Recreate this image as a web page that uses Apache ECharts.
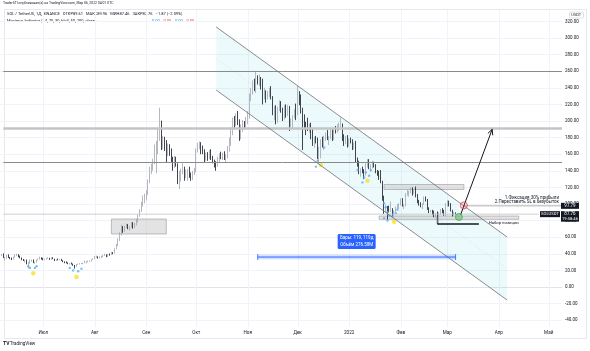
<!DOCTYPE html>
<html>
<head>
<meta charset="utf-8">
<script src="https://cdn.jsdelivr.net/npm/echarts@6/dist/echarts.min.js"></script>
<style>
html, body { margin: 0; padding: 0; background: #fff; }
#chart { width: 590px; height: 351px; }
</style>
</head>
<body>
<div id="chart"></div>
<script>
// daily candles, [open, close, low, high]
const jun21 = [
  [39.6,37.6,36.5,40.8],[37.6,38.7,37.2,39.8],[38.7,35.1,34.8,40.5],[35.1,35.6,31.8,36.2],[35.6,38.5,33.9,38.9],
  [38.5,35.5,35.0,39.4],[35.5,34.6,33.6,36.2],[34.6,34.2,32.4,35.4],[34.2,36.1,33.0,36.6],[36.1,38.3,35.6,39.3],
  [38.3,38.9,37.4,40.1],[38.9,36.3,35.8,39.6],[36.3,35.1,34.6,37.8],[35.1,32.9,32.3,35.6],[32.9,32.4,31.3,33.8],
  [32.4,32.8,29.6,33.2],[32.8,27.9,27.3,33.1],[27.9,28.6,22.6,30.4],[28.6,31.0,28.0,33.2],[31.0,32.3,30.2,33.0],
  [32.3,29.4,28.7,33.1],[29.4,29.5,28.1,30.3],[29.5,32.8,29.2,33.0],[32.8,33.2,32.0,34.2],[33.2,35.2,33.0,36.5],
  [35.2,34.9,33.0,35.8]
];
const jul21 = [
  [34.9,33.5,32.2,35.2],[33.5,33.6,32.1,34.0],[33.6,34.4,33.2,35.0],[34.4,35.0,33.9,35.9],[35.0,33.2,32.6,35.2],
  [33.2,34.4,33.0,35.6],[34.4,33.8,33.5,35.8],[33.8,31.9,31.2,34.0],[31.9,32.9,31.3,33.4],[32.9,32.7,32.1,34.2],
  [32.7,33.4,32.3,33.7],[33.4,31.9,31.4,33.9],[31.9,30.5,30.0,32.3],[30.5,30.3,28.6,30.9],[30.3,29.0,28.4,30.8],
  [29.0,27.9,27.5,29.6],[27.9,28.1,27.2,28.8],[28.1,27.8,27.1,29.5],[27.8,26.2,25.6,28.2],[26.2,24.5,22.2,26.6],
  [24.5,27.3,24.2,27.7],[27.3,27.7,26.7,28.3],[27.7,28.4,27.0,28.7],[28.4,28.4,27.6,29.0],[28.4,28.6,27.4,29.3],
  [28.6,29.7,28.5,32.0],[29.7,30.8,28.4,31.2],[30.8,30.9,29.9,31.9],[30.9,31.5,30.5,32.0],[31.5,33.2,30.6,33.6],
  [33.2,34.0,32.9,34.6]
];
const aug21 = [
  [34.0,36.0,33.8,37.4],[36.0,36.3,35.0,37.8],[36.3,35.0,34.2,36.9],[35.0,36.5,34.4,37.0],[36.5,37.0,34.8,37.5],
  [37.0,38.0,35.9,38.7],[38.0,38.6,37.4,40.2],[38.6,36.5,36.0,39.4],[36.5,39.4,35.8,39.9],[39.4,38.8,37.8,40.4],
  [38.8,41.2,38.5,42.3],[41.2,40.5,39.4,42.0],[40.5,46.0,40.3,46.7],[46.0,50.5,45.4,52.0],[50.5,56.5,49.2,58.6],
  [56.5,64.0,55.4,66.0],[64.0,70.5,62.1,75.1],[70.5,68.8,65.3,73.4],[68.8,72.5,66.6,73.8],[72.5,73.6,71.0,76.6],
  [73.6,72.3,69.6,75.8],[72.3,72.4,68.2,73.3],[72.4,74.6,71.6,77.9],[74.6,72.3,70.2,78.1],[72.3,76.3,71.0,77.2],
  [76.3,78.2,74.2,82.0],[78.2,86.0,77.8,87.3],[86.0,92.5,84.6,93.8],[92.5,99.0,90.3,102.6],[99.0,104.5,96.8,110.2],
  [104.5,108.9,101.0,112.3]
];
const sep21 = [
  [108.9,112.5,104.3,116.5],[112.5,127,111,129.5],[127,142,125,145],[142,143,136,148.5],[143,152,140,154.5],
  [152,169,148,171.5],[169,171,137,176],[171,187,160,192],[187,196,176,216],[196,172,165,200.5],
  [172,174.5,166,182],[174.5,174,164,181],[174,160,150,177],[160,168,157.5,173],[168,165,158,172],
  [165,155,150,167],[155,146,140,157],[146,155,143.5,158],[155,148,145,157],[148,131,124,149],
  [131,131.5,118,140],[131.5,140,127,142.5],[140,142,136,149],[142,135,128,145],[135,138,131,141.5],
  [138,138.5,128,142],[138.5,133,131.5,145],[133,131,128,138],[131,136,129,140],[136,141,135,143.5]
];
const oct21 = [
  [141,165,138,167],[165,171,162,174],[171,172,166,175.5],[172,168,160,174.5],[168,164,160,170.5],
  [164,155,150,166],[155,158,152,162],[158,155,152,162.5],[155,163,154,165],[163,155,153,166],
  [155,152,149,158],[152,149,144,153.5],[149,146,140,151.5],[146,155,145,157],[155,159,150,161],
  [159,156,154,163],[156,160,153,162],[160,156,153,163.5],[156,157,150,160],[157,167,155,170],
  [167,173,163,180],[173,186,170,193],[186,200,183,204],[200,198,190,206],[198,203,194,209],
  [203,198,195,212],[198,182,176,202],[182,190,178,196],[190,197,187,201],[197,195,190,200],
  [195,202,192,205]
];
const nov21 = [
  [202,205,196,212],[205,229,203,233],[229,238,224,240],[238,245,232,249],[245,239,236,251],
  [239,250,234,259],[250,248,244,255],[248,251,242,256],[251,242,238,253],[242,229,220,251],
  [229,234,226,240],[234,228,222,237],[228,234,226,236],[234,238,229,240],[238,229,226,242],
  [229,212,207,230],[212,213,201,218],[213,200,196,219],[200,215,198,217],[215,222,212,225],
  [222,212,210,224],[212,205,200,216],[205,217,202,219],[217,209,204,220],[209,216,206,219],
  [216,196,188,218],[196,199,193,203],[199,206,190,207],[206,211,203,214],[211,209,201,221]
];
const dec21 = [
  [209,231,207,242],[231,226,219,236],[226,214,209,232],[214,205,165,216],[205,198,190,208],
  [198,196,183,199],[196,190,188,204],[190,196,186,197],[196,181,178,198],[181,172,170,190],
  [172,180,168,181],[180,179,173,182],[179,160,154,180],[160,166,148,169],[166,176,155,178],
  [176,170,168,181],[170,181,165,182],[181,184,176,186],[184,179,177,189],[179,179,171,182],
  [179,188,178,191],[188,178,176,190],[178,190,177,192],[190,187,185,194],[187,194,186,196],
  [194,195,188,198],[195,196,192,204],[196,180,176,197],[180,174,170,184],[174,180,172,182],
  [180,170,168,183]
];
const jan22 = [
  [170,178,169,179],[178,176,173,180],[176,170,165,178],[170,170.5,166,174],[170.5,154,150,176],
  [154,151,145,156],[151,138,136,152],[138,141,133,143],[141,140,137,145],[140,137,130,142],
  [137,147,134,149],[147,151,144,154],[151,144,142,154],[144,146,139,148],[146,150,143,152],
  [150,147,144,151],[147,140,137,148],[140,137,134,141],[137,131,129,140],[131,127,125,141],
  [127,108,104,128],[108,94,88,110],[94,97,90,99],[97,95,81,97.5],[95,93,90,98],
  [93,93.5,90,103],[93.5,89,85,95],[89,91,86,92.5],[91,95,90,97],[95,99,94,100],
  [99,100,94,101]
];
const feb22 = [
  [100,106,98,107],[106,98,97,107],[98,98.5,94,100],[98.5,112,97,113],[112,114,110,117],
  [114,114.5,109,116],[114.5,118,113,120],[118,115,110,120],[115,117,112,118],[117,110,108,121],
  [110,104,101,112],[104,100,98,105],[100,97,96,102],[97,100,94,101],[100,108,99,109],
  [108,105,103,109],[105,94,93,106],[94,91,89,96],[91,92,90,93],[92,88,87,93],
  [88,86,84,92],[86,88,83,89],[88,85,84,91],[85,89,75,90],[89,93,87,94],
  [93,91,89,95],[91,87,86,93],[87,100,85,101]
];
const mar22 = [
  [100,102,97,104.5],[102,100,97,104],[100,92,91,101],[92,87,85,93],[87,89.6,86,90.5],[89.61,87.76,87.46,89.96]
];

// Maximus indicator signals [date, price]
const yellowSignals = [['2021-06-25',16.5],['2021-07-21',12],['2021-12-15',147],['2022-01-12',128],['2022-01-28',78.5]];
const blueSignals = [
  ['2021-06-22',25],['2021-06-23',23],['2021-06-26',23],['2021-06-27',25],
  ['2021-07-17',23],['2021-07-19',20],['2021-07-22',19],['2021-07-24',22],
  ['2021-12-12',145],['2021-12-13',152],['2021-12-17',168],
  ['2022-01-06',141],['2022-01-09',126],['2022-01-10',132],['2022-01-11',138],['2022-01-13',134],['2022-01-14',141],
  ['2022-01-22',101],['2022-01-22',83],['2022-01-23',96],['2022-01-24',90],['2022-01-24',80],['2022-01-25',86],
  ['2022-01-27',85],['2022-01-29',89],['2022-01-30',93]
];

// drawings
const levels = [260.2, 191.9, 150.2];
const levelStart = '2021-06-07';
const channelUpper = [['2021-10-13', 313.3], ['2022-04-06', 60.2]];
const channelLower = [['2021-10-13', 237.3], ['2022-04-06', -15.7]];
const zones = [['2021-08-11','2021-09-13',81.9,63.9], ['2022-01-22','2022-03-11',123.5,117.5], ['2022-01-19','2022-04-13',85.5,81.5]];
const lastPrice = 87.76;
const lastPriceEnd = '2022-04-25';
const targetPrice = 97.79;
const targetStart = '2022-03-11';
const entryLine = ['2022-02-23', '2022-03-20', 75.9, 84];
const redCircle = ['2022-03-11', 98.3];
const greenCircle = ['2022-03-08', 84.3];
const arrowPath = [['2022-03-09', 87], ['2022-03-28', 190]];
const measure = ['2021-11-07', '2022-03-06', 36.1];
const measureText = ['Бары: 119, 119д', 'Объём 276.58M'];

const monthNames = ['2022','Фев','Мар','Апр','Май','Июн','Июл','Авг','Сен','Окт','Ноя','Дек'];

const dates = [];
for (let d = new Date(Date.UTC(2021, 5, 5)); d <= new Date(Date.UTC(2022, 4, 9)); d.setUTCDate(d.getUTCDate() + 1)) {
  dates.push(d.toISOString().slice(0, 10));
}
const ix = d => dates.indexOf(d);
const candles = [].concat(jun21, jul21, aug21, sep21, oct21, nov21, dec21, jan22, feb22, mar22);

const font = 'Roboto, "Noto Sans", sans-serif';
const px = v => Math.round(v) + 0.5;

function line(a, b, style) {
  return { type: 'line', shape: { x1: a[0], y1: a[1], x2: b[0], y2: b[1] }, style: style };
}

function drawBack(params, api) {
  const P = (d, v) => api.coord([typeof d === 'string' ? ix(d) : d, v]);
  const ch = [];
  dates.forEach((d, i) => {
    if (d.slice(8) === '01') {
      const a = P(i, 333.7), b = P(i, -48.2);
      ch.push(line([px(a[0]), a[1]], [px(a[0]), b[1]], { stroke: '#f0f3fa', lineWidth: 1 }));
    }
  });
  const u0 = P(channelUpper[0][0], channelUpper[0][1]), u1 = P(channelUpper[1][0], channelUpper[1][1]);
  const l0 = P(channelLower[0][0], channelLower[0][1]), l1 = P(channelLower[1][0], channelLower[1][1]);
  ch.push({ type: 'polygon', shape: { points: [u0, u1, l1, l0] }, style: { fill: 'rgba(0,188,212,0.07)' } });
  ch.push(line([(u0[0] + l0[0]) / 2, (u0[1] + l0[1]) / 2], [(u1[0] + l1[0]) / 2, (u1[1] + l1[1]) / 2],
    { stroke: 'rgba(120,150,160,0.35)', lineWidth: 0.6, lineDash: [1, 2] }));
  zones.forEach(z => {
    const a = P(z[0], z[2]), b = P(z[1], z[3]);
    ch.push({ type: 'rect', shape: { x: a[0], y: a[1], width: b[0] - a[0], height: b[1] - a[1] },
      style: { fill: 'rgba(200,200,200,0.5)', stroke: '#a5a5a5', lineWidth: 0.7 } });
  });
  const m0 = P(measure[0], measure[2] + 3), m1 = P(measure[1], measure[2] - 3);
  ch.push({ type: 'rect', shape: { x: m0[0], y: m0[1], width: m1[0] - m0[0], height: m1[1] - m0[1] },
    style: { fill: 'rgba(41,98,255,0.18)' } });
  return { type: 'group', children: ch };
}

function drawFront(params, api) {
  const P = (d, v) => api.coord([typeof d === 'string' ? ix(d) : d, v]);
  const end = dates.length - 1;
  const ch = [];
  const lvStyle = [
    { stroke: '#8a8a8a', lineWidth: 1 },
    { stroke: '#c4c4c4', lineWidth: 2.5 },
    { stroke: '#8a8a8a', lineWidth: 1 }
  ];
  levels.forEach((v, i) => {
    const a = P(levelStart, v), b = P(end, v);
    ch.push(line([a[0], px(a[1])], [b[0], px(a[1])], lvStyle[i]));
  });
  // last price line
  const pa = P(levelStart, lastPrice), pb = P(lastPriceEnd, lastPrice);
  ch.push(line(pa, pb, { stroke: '#c2c2c2', lineWidth: 0.8 }));
  // channel borders
  ch.push(line(P(channelUpper[0][0], channelUpper[0][1]), P(channelUpper[1][0], channelUpper[1][1]), { stroke: '#6f6f6f', lineWidth: 0.8 }));
  ch.push(line(P(channelLower[0][0], channelLower[0][1]), P(channelLower[1][0], channelLower[1][1]), { stroke: '#6f6f6f', lineWidth: 0.8 }));
  // entry line
  const e0 = P(entryLine[0], entryLine[2]), e1 = P(entryLine[1], entryLine[2]), e2 = P(entryLine[0], entryLine[3]);
  ch.push(line(e0, e1, { stroke: '#131722', lineWidth: 1.3 }));
  ch.push(line(e2, e0, { stroke: '#131722', lineWidth: 0.8 }));
  // target line
  const t0 = P(targetStart, targetPrice), t1 = P(end, targetPrice);
  ch.push(line(t0, t1, { stroke: '#9e9e9e', lineWidth: 0.8 }));
  // arrow
  const a0 = P(arrowPath[0][0], arrowPath[0][1]), a1 = P(arrowPath[1][0], arrowPath[1][1]);
  ch.push(line(a0, a1, { stroke: '#131722', lineWidth: 1 }));
  const ang = Math.atan2(a1[1] - a0[1], a1[0] - a0[0]);
  [0.45, -0.45].forEach(s => {
    ch.push(line(a1, [a1[0] - 6 * Math.cos(ang + s), a1[1] - 6 * Math.sin(ang + s)], { stroke: '#131722', lineWidth: 1 }));
  });
  // circles
  const rc = P(redCircle[0], redCircle[1]), gc = P(greenCircle[0], greenCircle[1]);
  ch.push({ type: 'circle', shape: { cx: rc[0], cy: rc[1], r: 3.5 }, style: { fill: 'rgba(242,54,69,0.12)', stroke: '#f23645', lineWidth: 0.8 } });
  ch.push({ type: 'circle', shape: { cx: gc[0], cy: gc[1], r: 3.5 }, style: { fill: 'rgba(76,175,80,0.45)', stroke: '#4caf50', lineWidth: 0.8 } });
  // measurement
  const m0 = P(measure[0], measure[2]), m1 = P(measure[1], measure[2]);
  ch.push(line(m0, m1, { stroke: '#2962ff', lineWidth: 1 }));
  ch.push(line([m0[0], m0[1] - 3], [m0[0], m0[1] + 3], { stroke: '#2962ff', lineWidth: 0.8 }));
  ch.push(line([m1[0], m1[1] - 3], [m1[0], m1[1] + 3], { stroke: '#2962ff', lineWidth: 0.8 }));
  const mx = (m0[0] + m1[0]) / 2;
  ch.push({ type: 'rect', shape: { x: mx - 19, y: m0[1] - 23, width: 38, height: 15, r: 1.5 }, style: { fill: '#2962ff' } });
  ch.push({ type: 'text', x: mx, y: m0[1] - 19, style: { text: measureText[0], fill: '#fff', font: '4.5px ' + font, align: 'center', verticalAlign: 'middle' } });
  ch.push({ type: 'text', x: mx, y: m0[1] - 12.5, style: { text: measureText[1], fill: '#fff', font: '4.5px ' + font, align: 'center', verticalAlign: 'middle' } });
  // notes
  ch.push({ type: 'text', x: t1[0] - 3, y: t1[1] - 8, style: { text: '1.Фиксация 30% прибыли', fill: '#131722', font: '4.5px ' + font, align: 'right', verticalAlign: 'middle' } });
  ch.push({ type: 'text', x: t1[0] - 3, y: t1[1] - 3.5, style: { text: '2.Переставить SL в безубыток', fill: '#131722', font: '4.5px ' + font, align: 'right', verticalAlign: 'middle' } });
  const z3 = P(zones[2][1], zones[2][3]);
  ch.push({ type: 'text', x: z3[0], y: z3[1] + 4, style: { text: 'Набор позиции', fill: '#131722', font: '4.2px ' + font, align: 'right', verticalAlign: 'middle' } });
  // price scale labels
  ch.push({ type: 'rect', shape: { x: t1[0] - 1, y: t1[1] - 3, width: 18, height: 6 }, style: { fill: '#131722' } });
  ch.push({ type: 'text', x: t1[0] + 8, y: t1[1], style: { text: targetPrice.toFixed(2), fill: '#fff', font: '4.5px ' + font, align: 'center', verticalAlign: 'middle' } });
  const lp = P(end, lastPrice);
  ch.push({ type: 'rect', shape: { x: lp[0] - 1, y: lp[1] - 3, width: 18, height: 10.5 }, style: { fill: '#131722' } });
  ch.push({ type: 'text', x: lp[0] + 8, y: lp[1], style: { text: lastPrice.toFixed(2), fill: '#fff', font: '4.5px ' + font, align: 'center', verticalAlign: 'middle' } });
  ch.push({ type: 'text', x: lp[0] + 8, y: lp[1] + 5, style: { text: '19:58:46', fill: '#fff', font: '4.2px ' + font, align: 'center', verticalAlign: 'middle' } });
  ch.push({ type: 'rect', shape: { x: lp[0] - 22, y: lp[1] - 3, width: 20, height: 6 }, style: { fill: '#131722' } });
  ch.push({ type: 'text', x: lp[0] - 12, y: lp[1], style: { text: 'SOLUSDT', fill: '#fff', font: '4.2px ' + font, align: 'center', verticalAlign: 'middle' } });
  return { type: 'group', children: ch };
}

const chart = echarts.init(document.getElementById('chart'));
chart.setOption({
  animation: false,
  backgroundColor: '#ffffff',
  grid: { left: 0, right: 28, top: 4.8, bottom: 14.2 },
  xAxis: {
    type: 'category',
    data: dates,
    boundaryGap: false,
    offset: -10,
    axisLine: { lineStyle: { color: '#e0e3eb', width: 1 } },
    axisTick: { show: false },
    splitLine: { show: false },
    axisLabel: {
      interval: (i, v) => v.slice(8) === '01',
      formatter: v => monthNames[+v.slice(5, 7) - 1],
      fontSize: 4.6, color: '#131722', margin: 4, fontFamily: font
    }
  },
  yAxis: {
    type: 'value',
    position: 'right',
    min: -60, max: 340, interval: 20,
    axisLine: { show: false },
    axisTick: { show: false },
    splitLine: { show: true, showMinLine: false, showMaxLine: false, lineStyle: { color: '#f0f3fa', width: 1 } },
    axisLabel: {
      formatter: v => (v < -50 || v > 330) ? '' : v.toFixed(2),
      fontSize: 4.5, color: '#131722', margin: 3, fontFamily: font
    }
  },
  graphic: [
    { type: 'rect', shape: { x: 4.5, y: 9.5, width: 582, height: 329 }, style: { fill: 'none', stroke: '#e6e8ee', lineWidth: 1 }, silent: true },
    { type: 'text', left: 3, top: 1.5, style: { text: 'TraderSTI опубликовал(а) на TradingView.com, Мар 06, 2022 04:01 UTC', fill: '#131722', font: '3.4px ' + font } },
    { type: 'text', left: 7, top: 12.3, style: { text: 'SOL / TetherUS, 1Д, BINANCE   ОТКР89.61   МАКС89.96   МИН87.46   ЗАКР87.76   −1.87 (−2.09%)', fill: '#131722', font: '4px ' + font } },
    { type: 'text', left: 7, top: 18.6, style: { text: 'Maximus Indicator (14, 70, 30, hlc3, 50, 200, close)', fill: '#131722', font: '4px ' + font } },
    { type: 'text', left: 152, top: 18.6, style: { text: '0.00', fill: '#2196f3', font: '4px ' + font } },
    { type: 'text', left: 163.5, top: 18.6, style: { text: '0.00', fill: '#f44336', font: '4px ' + font } },
    { type: 'text', left: 175, top: 18.6, style: { text: '0.00', fill: '#2196f3', font: '4px ' + font } },
    { type: 'text', left: 186.5, top: 18.6, style: { text: '0.00', fill: '#f44336', font: '4px ' + font } },
    { type: 'rect', shape: { x: 569.5, y: 12, width: 14, height: 6, r: 1 }, style: { fill: '#fff', stroke: '#c9ccd4', lineWidth: 0.6 } },
    { type: 'text', left: 571.3, top: 13, style: { text: 'USDT', fill: '#131722', font: '4px ' + font } },
    { type: 'text', left: 3, top: 341.5, style: { text: 'TV', fill: '#131722', font: 'bold 5px ' + font } },
    { type: 'text', left: 10, top: 341.8, style: { text: 'TradingView', fill: '#131722', font: '4.6px ' + font } }
  ],
  series: [
    { type: 'custom', z: 1, silent: true, clip: false, renderItem: drawBack, data: [[0, 0]] },
    {
      type: 'candlestick', z: 2,
      data: candles,
      barWidth: 1,
      itemStyle: { color: '#a3a6af', color0: '#131722', borderColor: '#a3a6af', borderColor0: '#131722', borderWidth: 0.8 }
    },
    {
      type: 'scatter', z: 3, symbolSize: 2.4, silent: true,
      data: blueSignals.map(s => [ix(s[0]), s[1]]),
      itemStyle: { color: '#5aaef5' }
    },
    {
      type: 'scatter', z: 3, symbolSize: 4.5, silent: true,
      data: yellowSignals.map(s => [ix(s[0]), s[1]]),
      itemStyle: { color: '#fbdf2b' }
    },
    { type: 'custom', z: 4, silent: true, clip: false, renderItem: drawFront, data: [[0, 0]] }
  ]
});
</script>
</body>
</html>
